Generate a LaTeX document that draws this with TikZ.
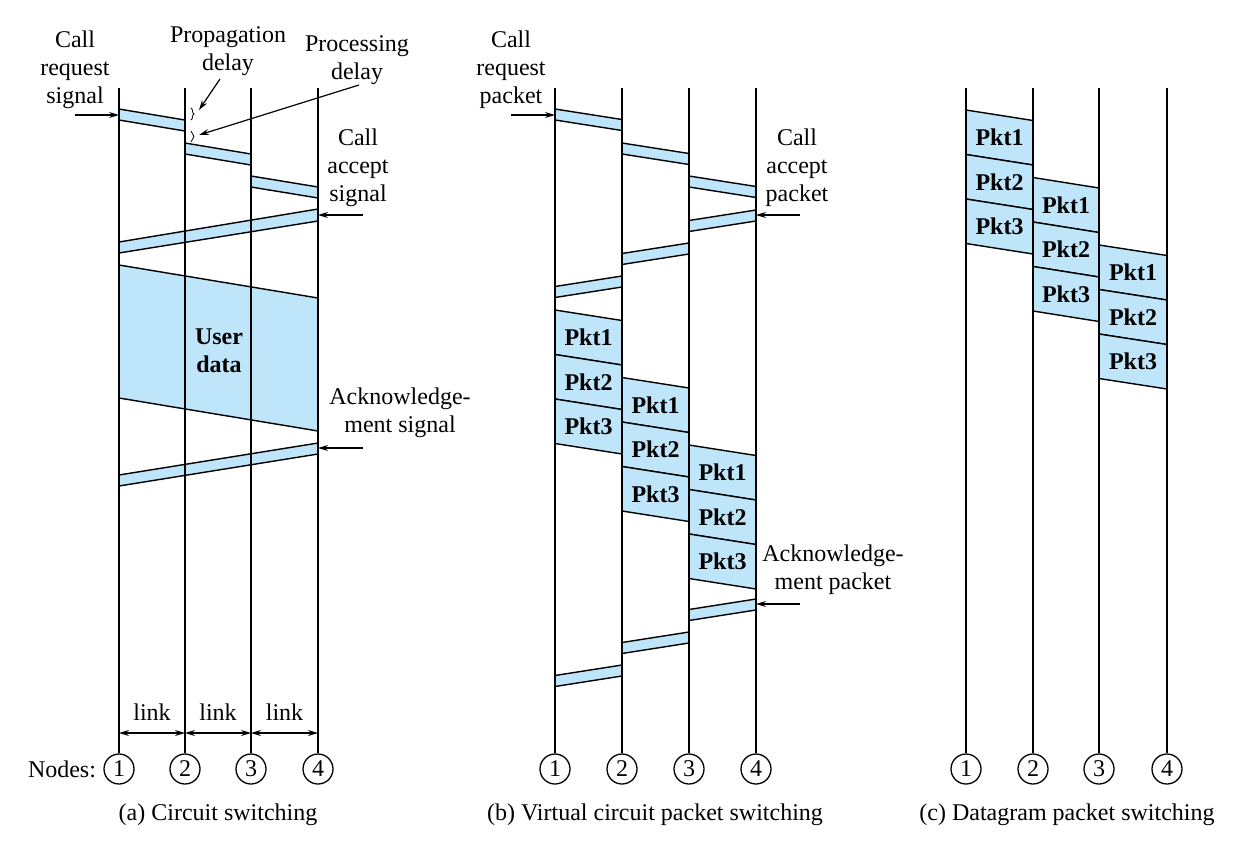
\documentclass[tikz,border=0pt]{standalone}
\usepackage{fontspec}
\setmainfont{Liberation Serif}
\usetikzlibrary{arrows.meta,decorations.pathreplacing}
\definecolor{pktblue}{RGB}{190,229,249}

\begin{document}
\begin{tikzpicture}[
    x=1pt, y=-1pt,
    font=\fontsize{24}{28}\selectfont,
    >={Stealth[length=10pt,width=6pt]},
    wire/.style={line width=2.9pt},
    band/.style={draw, fill=pktblue, line width=1.4pt, line join=round},
    pktlbl/.style={font=\fontsize{24}{28}\selectfont\bfseries, inner sep=0pt},
    nodecirc/.style={draw, circle, line width=1.3pt, minimum size=30pt, inner sep=0pt, fill=white},
    lbl/.style={align=center, inner sep=0pt},
    pointer/.style={->, line width=1.2pt},
    dim/.style={<->, line width=1.2pt}
]
    \useasboundingbox (0,0) rectangle (1242,841);

    % (a) circuit switching
    \foreach \xa/\xb/\y in {119/185/109, 185/251/143, 251/318/176}
        \filldraw[band] (\xa,\y) -- (\xb,\y+11) -- (\xb,\y+22) -- (\xa,\y+11) -- cycle;
    \filldraw[band] (318,209) -- (119,242) -- (119,253) -- (318,221) -- cycle;
    \filldraw[band] (119,265) -- (318,298) -- (318,431) -- (119,398) -- cycle;
    \filldraw[band] (318,443) -- (119,475) -- (119,486) -- (318,454) -- cycle;
    \node[lbl, font=\fontsize{24}{28}\selectfont\bfseries] (udata) at (219,351) {User\\data};

    \foreach \i/\x in {1/119,2/185,3/251,4/318} {
        \coordinate (atop\i) at (\x,88);
        \coordinate (alink\i) at (\x,733);
        \node[nodecirc] (a\i) at (\x,769) {\i};
        \draw[wire] (atop\i) -- (a\i);
    }
    \foreach \i/\j in {1/2,2/3,3/4}
        \draw[dim] (alink\i) -- node[lbl, yshift=21pt] (link\i) {link} (alink\j);
    \node[lbl] (nodeslbl) at (62,769) {Nodes:};

    \draw[decorate, decoration={brace, amplitude=3pt}, line width=0.8pt] (191,108) -- (191,120);
    \draw[decorate, decoration={brace, amplitude=3pt}, line width=0.8pt] (191,131) -- (191,142);

    \node[lbl] (reqsig) at (75,70) {Call\\request\\signal};
    \node[lbl] (propdly) at (228,51) {Propagation\\delay};
    \node[lbl] (procdly) at (357,60) {Processing\\delay};
    \node[lbl] (accsig) at (358,168) {Call\\accept\\signal};
    \node[lbl] (acksig) at (400,413) {Acknowledge-\\ment signal};

    \coordinate (reqtail) at (75,115);   \coordinate (reqhead) at (119,115);
    \coordinate (proptail) at (220,79);  \coordinate (prophead) at (199,110);
    \coordinate (proctail) at (359,85);  \coordinate (prochead) at (199,135);
    \coordinate (acctail) at (363,215);  \coordinate (acchead) at (318,215);
    \coordinate (acktail) at (363,448);  \coordinate (ackhead) at (318,448);
    \draw[pointer] (reqtail) -- (reqhead);
    \draw[pointer] (proptail) -- (prophead);
    \draw[pointer] (proctail) -- (prochead);
    \draw[pointer] (acctail) -- (acchead);
    \draw[pointer] (acktail) -- (ackhead);

    % (b) virtual circuit packet switching
    \foreach \xa/\xb/\y in {555/622/109, 622/689/143, 689/756/176,
                            756/689/210, 689/622/243, 622/555/276,
                            756/689/599, 689/622/632, 622/555/665}
        \filldraw[band] (\xa,\y) -- (\xb,\y+10.5) -- (\xb,\y+21.5) -- (\xa,\y+11) -- cycle;
    \foreach \xa/\xb/\y [count=\k] in {555/622/310, 622/689/377.5, 689/756/445}
        \foreach \j in {1,2,3} {
            \filldraw[band] (\xa,\y+44.5*\j-44.5) -- (\xb,\y+44.5*\j-34) -- (\xb,\y+44.5*\j+10.5) -- (\xa,\y+44.5*\j) -- cycle;
            \node[pktlbl] (vc\k\j) at ({(\xa+\xb)/2},\y+44.5*\j-17) {Pkt\j};
        }

    \foreach \i/\x in {1/555,2/622,3/689,4/756} {
        \coordinate (btop\i) at (\x,88);
        \node[nodecirc] (b\i) at (\x,769) {\i};
        \draw[wire] (btop\i) -- (b\i);
    }

    \node[lbl] (reqpkt) at (511,70) {Call\\request\\packet};
    \node[lbl] (accpkt) at (797,168) {Call\\accept\\packet};
    \node[lbl] (ackpkt) at (833,570) {Acknowledge-\\ment packet};

    \coordinate (breqtail) at (511,115); \coordinate (breqhead) at (555,115);
    \coordinate (bacctail) at (800,215); \coordinate (bacchead) at (756,215);
    \coordinate (backtail) at (800,604); \coordinate (backhead) at (756,604);
    \draw[pointer] (breqtail) -- (breqhead);
    \draw[pointer] (bacctail) -- (bacchead);
    \draw[pointer] (backtail) -- (backhead);

    % (c) datagram packet switching
    \foreach \xa/\xb/\y [count=\k] in {966/1033/110, 1033/1099/177.5, 1099/1167/245}
        \foreach \j in {1,2,3} {
            \filldraw[band] (\xa,\y+44.5*\j-44.5) -- (\xb,\y+44.5*\j-34) -- (\xb,\y+44.5*\j+10.5) -- (\xa,\y+44.5*\j) -- cycle;
            \node[pktlbl] (dg\k\j) at ({(\xa+\xb)/2},\y+44.5*\j-17) {Pkt\j};
        }

    \foreach \i/\x in {1/966,2/1033,3/1099,4/1167} {
        \coordinate (ctop\i) at (\x,88);
        \node[nodecirc] (c\i) at (\x,769) {\i};
        \draw[wire] (ctop\i) -- (c\i);
    }

    % captions
    \node (capa) at (218,815) {(a) Circuit switching};
    \node (capb) at (655,815) {(b) Virtual circuit packet switching};
    \node (capc) at (1067,815) {(c) Datagram packet switching};
\end{tikzpicture}
\end{document}
